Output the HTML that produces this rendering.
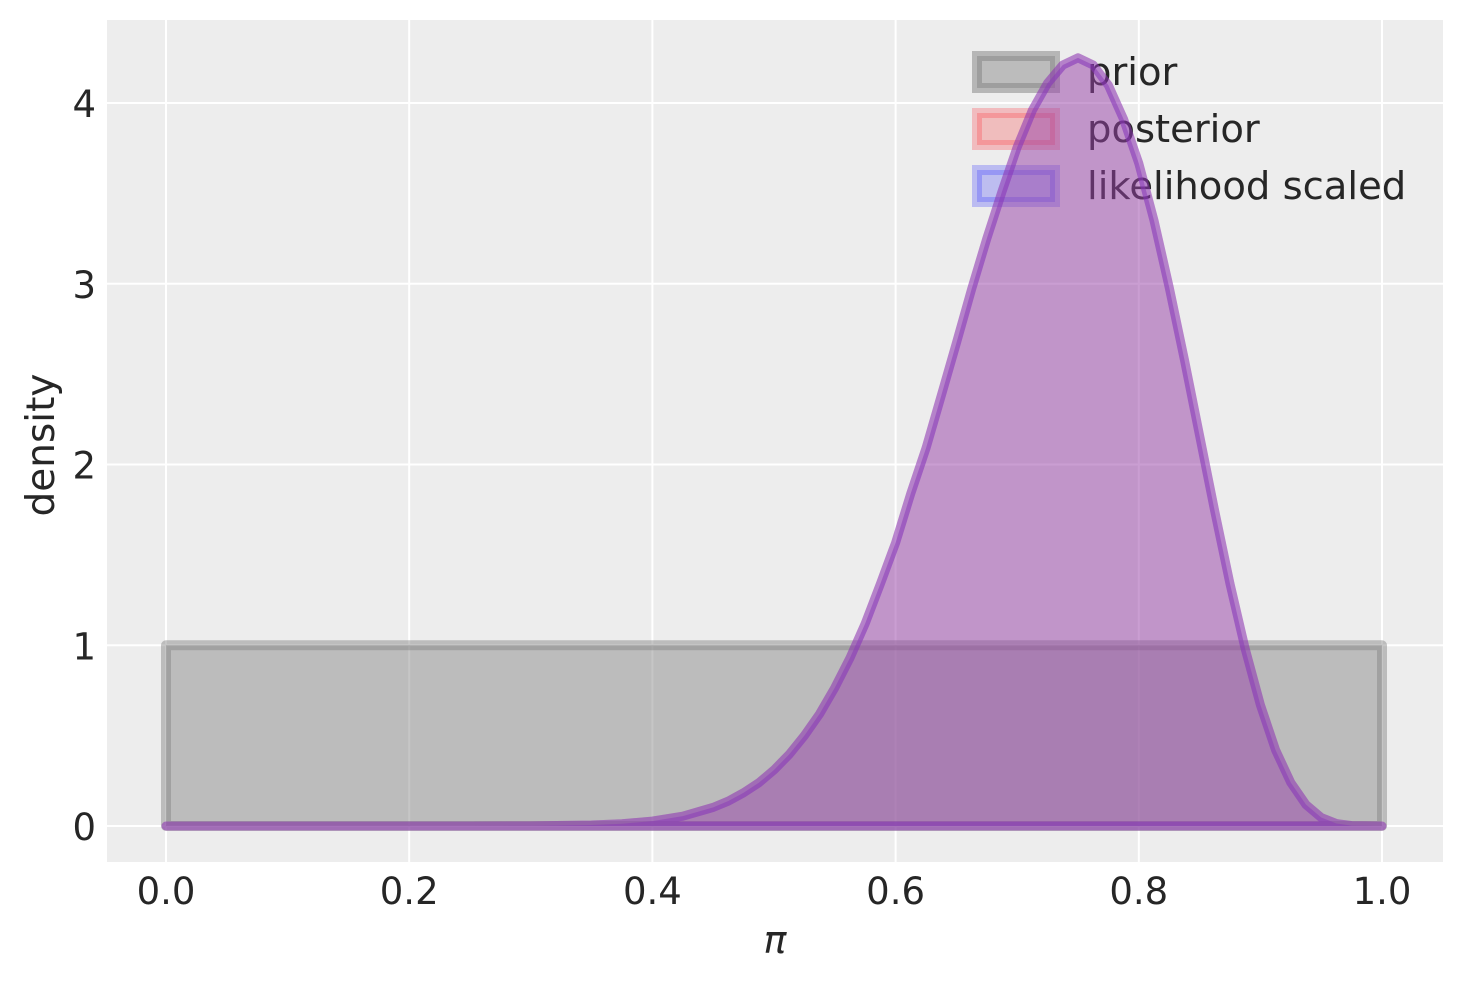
<!DOCTYPE html>
<html><head><meta charset="utf-8"><style>
body{margin:0;background:#fff;}
svg text{font-family:"DejaVu Sans","Liberation Sans",sans-serif;fill:#262626;}
</style></head><body>
<svg id="chart" width="1463" height="983" viewBox="0 0 1463 983">
<rect x="107" y="20" width="1336" height="842" fill="#ededed"/>
<g id="grid"></g>
<g id="ticks"></g>
<g id="legend">
 <g>
  <rect x="977" y="56" width="78" height="32" fill="rgba(128,128,128,0.45)" stroke="rgba(128,128,128,0.5)" stroke-width="10"/>
  <text x="1087" y="85" font-size="38.5">prior</text></g>
 <g>
  <rect x="977" y="113" width="78" height="32" fill="rgba(255,0,0,0.2)" stroke="rgba(255,40,50,0.25)" stroke-width="10"/>
  <text x="1087" y="142" font-size="38.5">posterior</text></g>
 <g>
  <rect x="977" y="170" width="78" height="32" fill="rgba(0,0,255,0.2)" stroke="rgba(40,40,255,0.25)" stroke-width="10"/>
  <text x="1087" y="199" font-size="38.5">likelihood scaled</text></g>
</g>
<g id="series"></g>
<text x="775" y="953" font-size="38" font-style="italic" text-anchor="middle">π</text>
<text transform="translate(54,445) rotate(-90)" font-size="39" text-anchor="middle">density</text>
</svg>
<script>
const xTicks = [0, 0.2, 0.4, 0.6, 0.8, 1.0];
const xTickLabels = ["0.0", "0.2", "0.4", "0.6", "0.8", "1.0"];
const yTicks = [0, 1, 2, 3, 4];
const yTickLabels = ["0", "1", "2", "3", "4"];
const priorX = [0, 1];
const priorY = [1, 1];
const curveX = [0, 0.25, 0.3, 0.35, 0.375, 0.4, 0.425, 0.45, 0.4625, 0.475, 0.4875, 0.5, 0.5125, 0.525, 0.5375, 0.55, 0.5625, 0.575, 0.5875, 0.6, 0.6125, 0.625, 0.6375, 0.65, 0.6625, 0.675, 0.6875, 0.7, 0.7125, 0.725, 0.7375, 0.75, 0.7625, 0.775, 0.7875, 0.8, 0.8125, 0.825, 0.8375, 0.85, 0.8625, 0.875, 0.8875, 0.9, 0.9125, 0.925, 0.9375, 0.95, 0.9625, 0.975, 1.0];
const curveY = [0, 0.0001, 0.0008, 0.0055, 0.0127, 0.027, 0.0545, 0.103, 0.138, 0.184, 0.239, 0.31, 0.396, 0.50, 0.62, 0.765, 0.93, 1.12, 1.34, 1.567, 1.84, 2.09, 2.38, 2.672, 2.97, 3.25, 3.51, 3.756, 3.96, 4.11, 4.21, 4.25, 4.21, 4.098, 3.91, 3.666, 3.35, 2.98, 2.58, 2.16, 1.74, 1.34, 0.98, 0.67, 0.42, 0.24, 0.118, 0.047, 0.0136, 0.0022, 0];
const posteriorY = curveY;
const likelihoodY = curveY;

const NS = "http://www.w3.org/2000/svg";
const X = v => 166 + v * 1216;
const Y = v => 826 - v * 180.75;
function mk(tag, attrs, parent) {
  const e = document.createElementNS(NS, tag);
  for (const k in attrs) e.setAttribute(k, attrs[k]);
  parent.appendChild(e);
  return e;
}
const grid = document.getElementById('grid');
const ticks = document.getElementById('ticks');
xTicks.forEach((t, i) => {
  const l = mk('line', {x1: X(t), x2: X(t), y1: 20, y2: 862, stroke: '#fff', 'stroke-width': 2}, grid);
  
  
  const tx = mk('text', {x: X(t), y: 904, 'font-size': 37, 'text-anchor': 'middle'}, ticks);
  tx.textContent = xTickLabels[i];
  
  
});
yTicks.forEach((t, i) => {
  const l = mk('line', {x1: 107, x2: 1443, y1: Y(t), y2: Y(t), stroke: '#fff', 'stroke-width': 2}, grid);
  
  
  const tx = mk('text', {x: 96, y: Y(t) + 14, 'font-size': 37, 'text-anchor': 'end'}, ticks);
  tx.textContent = yTickLabels[i];
  
  
});
const series = document.getElementById('series');
const pr = mk('path', {d: `M${X(priorX[0])},${Y(0)} L${X(priorX[0])},${Y(priorY[0])} L${X(priorX[1])},${Y(priorY[1])} L${X(priorX[1])},${Y(0)} Z`,
  fill: 'rgba(128,128,128,0.45)', stroke: 'rgba(128,128,128,0.45)', 'stroke-width': 10, 'stroke-linejoin': 'round'}, series);


function area(ys, fill, stroke, name) {
  let d = `M${X(curveX[0])},${Y(0)}`;
  curveX.forEach((x, i) => { d += ` L${X(x)},${Y(ys[i])}`; });
  d += ` L${X(curveX[curveX.length - 1])},${Y(0)} Z`;
  const p = mk('path', {d, fill, stroke, 'stroke-width': 9, 'stroke-linejoin': 'round', 'stroke-linecap': 'round'}, series);
  
  
}
area(posteriorY, 'rgba(220,80,100,0.25)', 'rgba(190,60,130,0.3)', 'posterior-area');
area(likelihoodY, 'rgba(120,60,200,0.35)', 'rgba(120,50,200,0.4)', 'likelihood-area');
</script>
</body></html>
